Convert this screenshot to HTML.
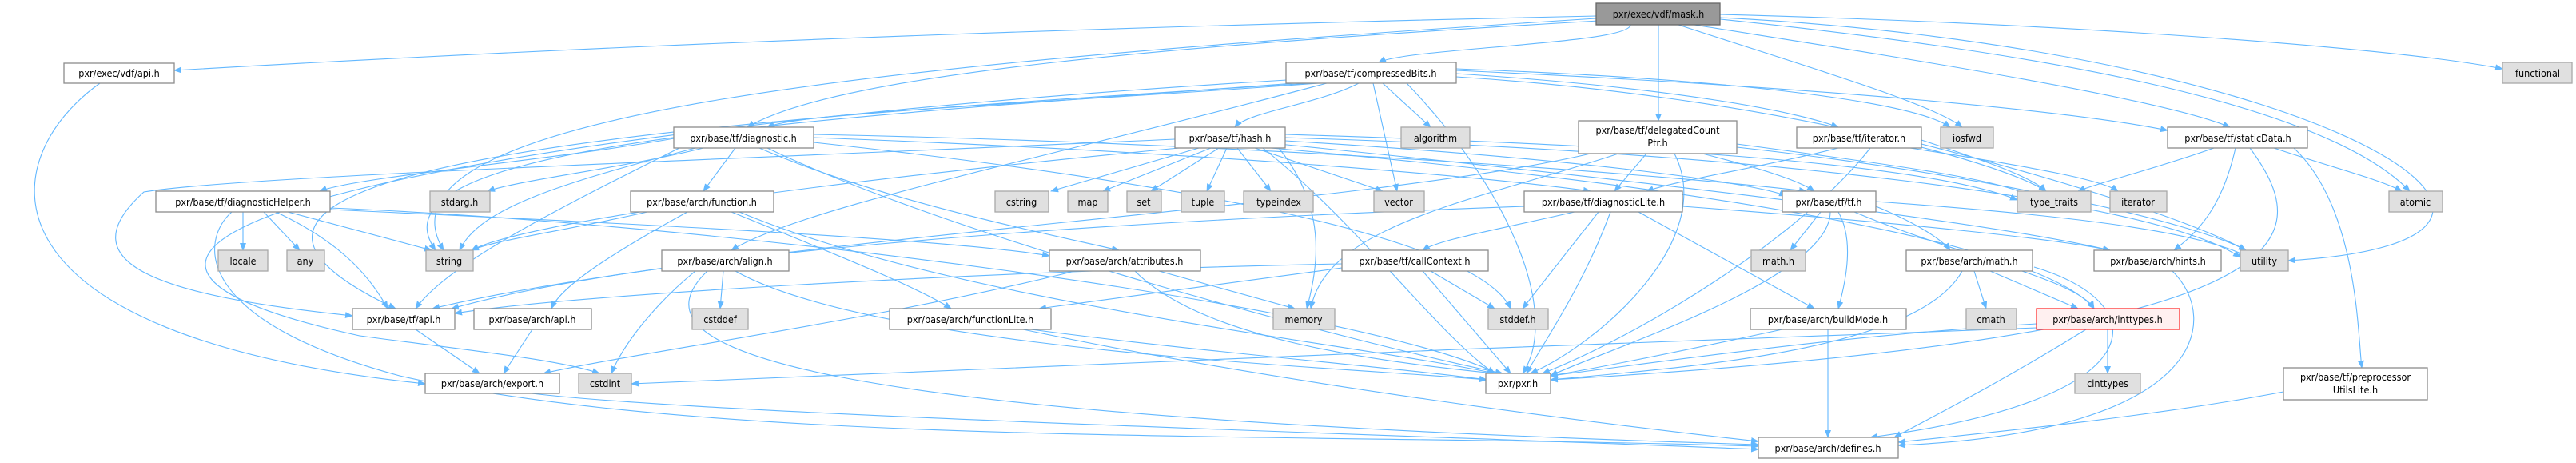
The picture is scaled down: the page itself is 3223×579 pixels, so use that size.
<!DOCTYPE html>
<html><head><meta charset="utf-8"><style>
html,body{margin:0;padding:0;background:#fff;}
svg{display:block}
text{font-family:"DejaVu Sans Condensed","DejaVu Sans","Liberation Sans",sans-serif;font-size:12.5px;fill:#000;text-anchor:middle}
.e{fill:none;stroke:#63b8ff;stroke-width:1.1}
.n rect{fill:#fff;stroke:#8c8c8c;stroke-width:1.3}
.g rect{fill:#e0e0e0;stroke:#a8a8a8;stroke-width:1.3}
</style></head><body>
<svg width="3223" height="579" viewBox="0 0 3223 579" xmlns="http://www.w3.org/2000/svg">
<defs><marker id="a" markerWidth="10" markerHeight="8" refX="9" refY="4" orient="auto" markerUnits="userSpaceOnUse"><path d="M0,0 L10,4 L0,8 z" fill="#63b8ff"/></marker></defs>
<g class="e" marker-end="url(#a)">
<!-- mask.h -->
<path d="M1997,20 C1300,35 700,60 218,88"/>
<path d="M2040,31 C2040,55 1760,60 1725,78"/>
<path d="M2000,26 C1500,55 1050,90 935,159"/>
<path d="M2075,31 L2075,151"/>
<path d="M2120,31 C2300,60 2700,120 2790,159"/>
<path d="M2100,31 C2250,80 2420,130 2455,159"/>
<path d="M2152,18 C2600,30 3000,60 3131,86"/>
<path d="M2152,24 C2500,60 2900,120 3015,239"/>
<path d="M2152,22 C2900,60 3300,300 2863,326"/>
<path d="M1997,23 C1100,80 450,140 555,313"/>
<!-- compressedBits -->
<path d="M1640,104 C900,150 100,200 495,386"/>
<path d="M1650,104 C1300,130 1000,140 960,159"/>
<path d="M1700,104 C1650,130 1560,140 1545,159"/>
<path d="M1730,104 L1790,159"/>
<path d="M1718,104 L1748,239"/>
<path d="M1822,92 C2100,110 2250,140 2300,159"/>
<path d="M1822,88 C2300,110 2600,140 2712,163"/>
<path d="M1822,86 C2200,100 2400,130 2440,159"/>
<path d="M1822,96 C2200,120 2500,200 2560,239"/>
<path d="M1660,104 C1300,200 1000,260 915,313"/>
<path d="M1760,104 C1900,250 1950,400 1905,467"/>
<path d="M1620,104 C1000,150 450,180 545,313"/>
<path d="M1610,100 C600,160 -100,300 450,420 C600,440 700,450 750,467"/>
<!-- diagnostic.h -->
<path d="M860,170 C700,200 450,220 400,239"/>
<path d="M880,185 C780,210 650,225 610,239"/>
<path d="M920,185 L880,239"/>
<path d="M870,185 C700,230 600,260 575,313"/>
<path d="M850,185 C700,260 560,330 520,386"/>
<path d="M1018,172 C1500,190 1850,220 1990,239"/>
<path d="M950,185 C1100,250 1300,290 1400,313"/>
<path d="M960,185 C1200,300 1700,430 1880,467"/>
<path d="M1018,178 C1500,230 1850,300 1890,386"/>
<path d="M1018,168 C1600,180 2100,220 2260,239"/>
<!-- diagnosticHelper -->
<path d="M304,265 L304,313"/>
<path d="M330,265 L375,313"/>
<path d="M360,265 L540,313"/>
<path d="M345,265 C420,300 460,340 485,386"/>
<path d="M290,265 C250,300 240,400 500,470 C900,560 1600,540 2200,558"/>
<path d="M413,260 C900,280 1700,380 1880,470"/>
<path d="M413,262 C800,280 1200,300 1313,320"/>
<!-- function.h -->
<path d="M860,265 C760,320 700,360 690,386"/>
<path d="M915,265 C1050,320 1150,360 1190,386"/>
<path d="M810,265 C700,290 620,300 590,313"/>
<path d="M925,265 C1200,380 1700,430 1870,467"/>
<!-- hash.h -->
<path d="M1470,174 C900,200 300,220 180,240 C80,330 200,370 441,395"/>
<path d="M1500,185 L1315,239"/>
<path d="M1515,185 L1380,239"/>
<path d="M1525,185 L1440,239"/>
<path d="M1535,185 L1510,239"/>
<path d="M1548,185 L1590,239"/>
<path d="M1570,185 L1730,239"/>
<path d="M1475,185 C1000,230 650,280 590,313"/>
<path d="M1600,185 C1660,260 1650,330 1635,386"/>
<path d="M1608,168 C2000,180 2400,200 2524,250"/>
<path d="M1608,172 C2200,190 2700,250 2803,322"/>
<path d="M1600,180 C2100,230 2500,280 2640,313"/>
<path d="M1608,176 C2000,200 2200,230 2235,245"/>
<path d="M1590,185 C2100,230 2550,300 2620,386"/>
<path d="M1580,185 C1700,280 1800,420 1870,467"/>
<!-- align.h -->
<path d="M905,339 L901,386"/>
<path d="M870,339 C820,380 780,430 765,467"/>
<path d="M920,339 C1100,440 1700,460 1860,475"/>
<path d="M885,339 C780,440 1000,520 2200,556"/>
<!-- attributes.h -->
<path d="M1450,339 L1620,386"/>
<path d="M1420,339 C1500,420 1700,450 1870,467"/>
<path d="M1345,339 C1100,400 800,440 680,467"/>
<!-- functionLite -->
<path d="M1290,412 C1500,440 1750,460 1860,475"/>
<path d="M1280,412 C1600,480 2000,530 2200,552"/>
<!-- delegatedCountPtr -->
<path d="M2060,192 L2020,239"/>
<path d="M2130,192 C2200,210 2250,225 2270,239"/>
<path d="M2025,192 C1850,250 1660,280 1640,386"/>
<path d="M2173,180 C2400,210 2500,225 2540,245"/>
<path d="M2173,184 C2500,220 2750,280 2810,313"/>
<path d="M2095,192 C2150,300 2000,430 1915,467"/>
<path d="M1990,192 C1700,260 900,300 541,386"/>
<!-- iterator.h -->
<path d="M2300,185 C2200,210 2100,225 2060,239"/>
<path d="M2404,175 C2480,200 2540,220 2560,239"/>
<path d="M2390,185 C2550,210 2630,225 2650,239"/>
<path d="M2404,180 C2600,230 2750,280 2810,313"/>
<path d="M2340,185 C2250,300 2050,420 1930,467"/>
<!-- diagnosticLite -->
<path d="M1970,265 C1860,290 1800,300 1780,313"/>
<path d="M2000,265 L1905,386"/>
<path d="M2015,265 C1980,360 1930,430 1910,467"/>
<path d="M2050,265 L2270,386"/>
<path d="M1907,258 C1300,280 800,320 565,386"/>
<path d="M2105,258 C2400,280 2580,300 2640,313"/>
<!-- tf.h -->
<path d="M2278,265 L2240,313"/>
<path d="M2300,265 C2320,300 2310,350 2300,386"/>
<path d="M2290,265 C2290,350 2000,440 1940,470"/>
<path d="M2320,265 C2450,320 2600,350 2620,386"/>
<path d="M2347,258 C2400,280 2430,300 2440,313"/>
<path d="M2347,252 C2600,270 2750,290 2810,320"/>
<!-- callContext -->
<path d="M1679,330 C1200,340 700,370 569,392"/>
<path d="M1790,339 L1870,386"/>
<path d="M1780,339 L1890,467"/>
<path d="M1679,335 C1500,360 1350,380 1300,386"/>
<!-- buildMode -->
<path d="M2287,412 L2287,547"/>
<path d="M2230,412 C2100,440 2000,460 1940,470"/>
<!-- arch/math.h -->
<path d="M2470,339 L2485,386"/>
<path d="M2490,339 L2600,386"/>
<path d="M2545,334 C2700,380 2700,500 2340,547"/>
<path d="M2455,339 C2400,440 2100,460 1940,475"/>
<!-- inttypes -->
<path d="M2637,412 L2637,467"/>
<path d="M2548,410 C2000,430 1200,460 790,480"/>
<path d="M2610,412 C2500,480 2420,520 2370,547"/>
<path d="M2548,405 C2300,420 2100,450 1940,470"/>
<!-- hints -->
<path d="M2718,339 C2780,400 2760,540 2375,557"/>
<!-- staticData -->
<path d="M2770,185 C2700,210 2620,230 2600,239"/>
<path d="M2845,185 C2920,210 2980,225 3005,239"/>
<path d="M2797,185 C2780,260 2750,290 2720,313"/>
<path d="M2870,185 C2950,260 2950,420 2955,460"/>
<path d="M2815,185 C2900,300 2900,420 1940,475"/>
<!-- preprocessor -->
<path d="M2857,490 C2700,520 2500,540 2375,553"/>
<!-- api -> export -->
<path d="M666,412 L630,467"/>
<path d="M520,412 L600,467"/>
<path d="M665,492 C900,520 1800,545 2200,562"/>
<path d="M125,104 C-10,200 -40,420 532,480"/>
</g>

<g class="n"><rect x="80" y="79" width="138" height="25"/><text x="149" y="96">pxr/exec/vdf/api.h</text></g>
<g><rect x="1997" y="4" width="155" height="27" fill="#999" stroke="#666" stroke-width="1.3"/><text x="2075" y="22">pxr/exec/vdf/mask.h</text></g>
<g class="n"><rect x="1609" y="78" width="213" height="26"/><text x="1715" y="96">pxr/base/tf/compressedBits.h</text></g>
<g class="g"><rect x="3131" y="78" width="87" height="26"/><text x="3175" y="96">functional</text></g>
<g class="n"><rect x="843" y="159" width="175" height="26"/><text x="930" y="177">pxr/base/tf/diagnostic.h</text></g>
<g class="n"><rect x="1470" y="159" width="138" height="26"/><text x="1539" y="177">pxr/base/tf/hash.h</text></g>
<g class="g"><rect x="1753" y="159" width="86" height="26"/><text x="1796" y="177">algorithm</text></g>
<g class="n"><rect x="1975" y="151" width="198" height="41"/><text x="2074" y="167">pxr/base/tf/delegatedCount</text><text x="2074" y="183">Ptr.h</text></g>
<g class="n"><rect x="2248" y="159" width="156" height="26"/><text x="2326" y="177">pxr/base/tf/iterator.h</text></g>
<g class="g"><rect x="2428" y="159" width="66" height="26"/><text x="2461" y="177">iosfwd</text></g>
<g class="n"><rect x="2712" y="159" width="175" height="26"/><text x="2800" y="177">pxr/base/tf/staticData.h</text></g>

<g class="n"><rect x="195" y="239" width="218" height="26"/><text x="304" y="257">pxr/base/tf/diagnosticHelper.h</text></g>
<g class="g"><rect x="538" y="239" width="75" height="26"/><text x="575" y="257">stdarg.h</text></g>
<g class="n"><rect x="789" y="239" width="179" height="26"/><text x="878" y="257">pxr/base/arch/function.h</text></g>
<g class="g"><rect x="1245" y="239" width="67" height="26"/><text x="1278" y="257">cstring</text></g>
<g class="g"><rect x="1336" y="239" width="50" height="26"/><text x="1361" y="257">map</text></g>
<g class="g"><rect x="1410" y="239" width="43" height="26"/><text x="1431" y="257">set</text></g>
<g class="g"><rect x="1478" y="239" width="54" height="26"/><text x="1505" y="257">tuple</text></g>
<g class="g"><rect x="1556" y="239" width="87" height="26"/><text x="1600" y="257">typeindex</text></g>
<g class="g"><rect x="1719" y="239" width="63" height="26"/><text x="1750" y="257">vector</text></g>
<g class="n"><rect x="1907" y="239" width="198" height="26"/><text x="2006" y="257">pxr/base/tf/diagnosticLite.h</text></g>
<g class="n"><rect x="2230" y="239" width="117" height="26"/><text x="2288" y="257">pxr/base/tf/tf.h</text></g>
<g class="g"><rect x="2524" y="239" width="92" height="26"/><text x="2570" y="257">type_traits</text></g>
<g class="g"><rect x="2640" y="239" width="71" height="26"/><text x="2675" y="257">iterator</text></g>
<g class="g"><rect x="2989" y="239" width="67" height="26"/><text x="3022" y="257">atomic</text></g>

<g class="g"><rect x="273" y="313" width="62" height="26"/><text x="304" y="331">locale</text></g>
<g class="g"><rect x="359" y="313" width="47" height="26"/><text x="382" y="331">any</text></g>
<g class="g"><rect x="533" y="313" width="59" height="26"/><text x="562" y="331">string</text></g>
<g class="n"><rect x="828" y="313" width="159" height="26"/><text x="907" y="331">pxr/base/arch/align.h</text></g>
<g class="n"><rect x="1313" y="313" width="189" height="26"/><text x="1407" y="331">pxr/base/arch/attributes.h</text></g>
<g class="n"><rect x="1679" y="313" width="183" height="26"/><text x="1770" y="331">pxr/base/tf/callContext.h</text></g>
<g class="g"><rect x="2191" y="313" width="68" height="26"/><text x="2225" y="331">math.h</text></g>
<g class="n"><rect x="2385" y="313" width="158" height="26"/><text x="2464" y="331">pxr/base/arch/math.h</text></g>
<g class="n"><rect x="2620" y="313" width="159" height="26"/><text x="2700" y="331">pxr/base/arch/hints.h</text></g>
<g class="g"><rect x="2803" y="313" width="60" height="26"/><text x="2833" y="331">utility</text></g>

<g class="n"><rect x="441" y="386" width="128" height="26"/><text x="505" y="404">pxr/base/tf/api.h</text></g>
<g class="n"><rect x="593" y="386" width="147" height="26"/><text x="666" y="404">pxr/base/arch/api.h</text></g>
<g class="g"><rect x="866" y="386" width="70" height="26"/><text x="901" y="404">cstddef</text></g>
<g class="n"><rect x="1113" y="386" width="202" height="26"/><text x="1214" y="404">pxr/base/arch/functionLite.h</text></g>
<g class="g"><rect x="1593" y="386" width="77" height="26"/><text x="1631" y="404">memory</text></g>
<g class="g"><rect x="1862" y="386" width="75" height="26"/><text x="1899" y="404">stddef.h</text></g>
<g class="n"><rect x="2190" y="386" width="195" height="26"/><text x="2287" y="404">pxr/base/arch/buildMode.h</text></g>
<g class="g"><rect x="2460" y="386" width="63" height="26"/><text x="2491" y="404">cmath</text></g>
<g><rect x="2548" y="386" width="179" height="26" fill="#fff0f0" stroke="#ff3030" stroke-width="1.3"/><text x="2637" y="404">pxr/base/arch/inttypes.h</text></g>

<g class="n"><rect x="532" y="467" width="168" height="25"/><text x="616" y="484">pxr/base/arch/export.h</text></g>
<g class="g"><rect x="724" y="467" width="66" height="25"/><text x="757" y="484">cstdint</text></g>
<g class="n"><rect x="1859" y="467" width="81" height="25"/><text x="1899" y="484">pxr/pxr.h</text></g>
<g class="g"><rect x="2596" y="467" width="82" height="25"/><text x="2637" y="484">cinttypes</text></g>
<g class="n"><rect x="2857" y="460" width="180" height="40"/><text x="2947" y="476">pxr/base/tf/preprocessor</text><text x="2947" y="492">UtilsLite.h</text></g>
<g class="n"><rect x="2200" y="547" width="175" height="26"/><text x="2287" y="565">pxr/base/arch/defines.h</text></g>
</svg>
</body></html>
